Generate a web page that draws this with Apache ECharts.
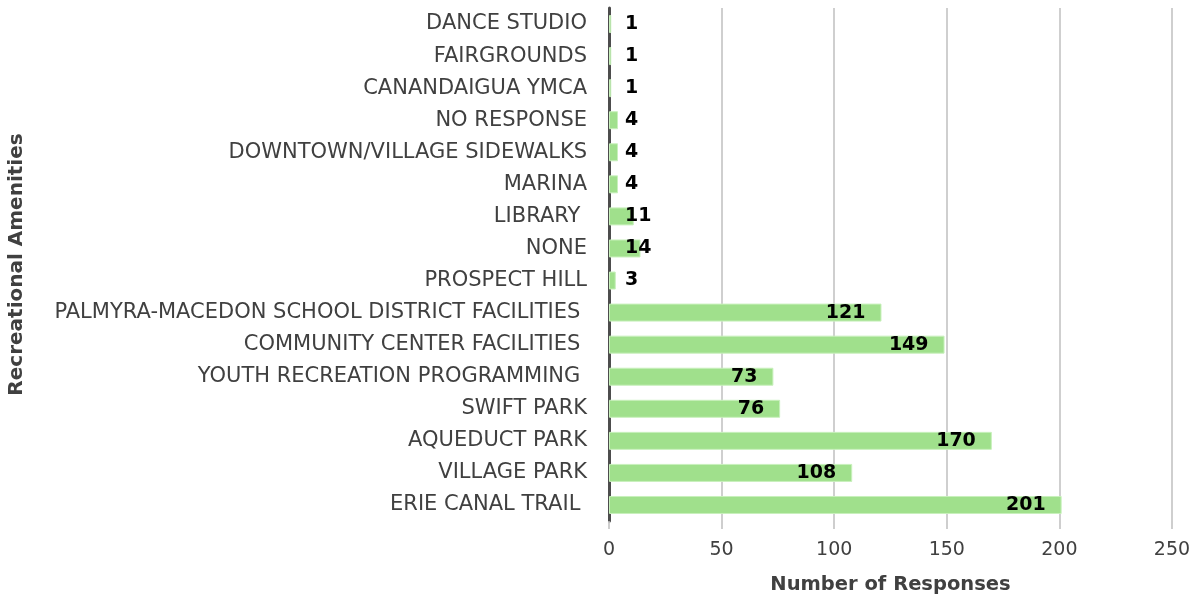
<!DOCTYPE html>
<html>
<head>
<meta charset="utf-8">
<script src="https://cdn.jsdelivr.net/npm/echarts@6/dist/echarts.min.js"></script>
<style>
  html, body { margin: 0; padding: 0; background: #fff; }
  #chart { width: 1198px; height: 603px; }
</style>
</head>
<body>
<div id="chart"></div>
<script>
// Amenities listed bottom-to-top as they appear on the category axis
const amenities = [
  'ERIE CANAL TRAIL ',
  'VILLAGE PARK',
  'AQUEDUCT PARK',
  'SWIFT PARK',
  'YOUTH RECREATION PROGRAMMING ',
  'COMMUNITY CENTER FACILITIES ',
  'PALMYRA-MACEDON SCHOOL DISTRICT FACILITIES ',
  'PROSPECT HILL',
  'NONE',
  'LIBRARY ',
  'MARINA',
  'DOWNTOWN/VILLAGE SIDEWALKS',
  'NO RESPONSE',
  'CANANDAIGUA YMCA',
  'FAIRGROUNDS',
  'DANCE STUDIO'
];
const responses = [201, 108, 170, 76, 73, 149, 121, 3, 14, 11, 4, 4, 4, 1, 1, 1];
const xTicks = { min: 0, max: 250, interval: 50 };

const textColor = '#404040';
const fontFamily = '"DejaVu Sans", sans-serif';

const chart = echarts.init(document.getElementById('chart'));

// Short bars keep their label just past the bar start; long bars carry it inside the end
const barData = responses.map(v => ({
  value: v,
  label: { position: v < 20 ? 'insideLeft' : 'insideRight' }
}));

chart.setOption({
  animation: false,
  backgroundColor: '#ffffff',
  grid: { left: 609, right: 26, top: 8, bottom: 82, containLabel: false },
  xAxis: {
    type: 'value',
    min: xTicks.min,
    max: xTicks.max,
    interval: xTicks.interval,
    name: 'Number of Responses',
    nameLocation: 'middle',
    nameGap: 54,
    nameTextStyle: { color: textColor, fontSize: 19.5, fontWeight: 'bold', fontFamily },
    axisLine: { show: false },
    axisTick: { show: true, length: 8, lineStyle: { color: '#bfbfbf', width: 1.5 } },
    axisLabel: { color: textColor, fontSize: 19, fontFamily, margin: 20 },
    splitLine: { show: true, lineStyle: { color: '#bfbfbf', width: 1.5 } }
  },
  yAxis: {
    type: 'category',
    data: amenities,
    name: 'Recreational Amenities',
    nameLocation: 'middle',
    nameGap: 582,
    nameRotate: 90,
    nameTextStyle: { color: textColor, fontSize: 20, fontWeight: 'bold', fontFamily },
    axisLine: { show: true, lineStyle: { color: '#4d4d4d', width: 3 } },
    axisTick: { show: false },
    axisLabel: { color: textColor, fontSize: 21, fontFamily, margin: 22 },
    splitLine: { show: false }
  },
  series: [{
    type: 'bar',
    data: barData,
    barWidth: 18,
    itemStyle: { color: '#a0e08c', borderColor: '#c8f0bc', borderWidth: 1 },
    label: {
      show: true,
      distance: 16,
      color: '#000000',
      fontSize: 19,
      fontWeight: 'bold',
      fontFamily
    }
  }]
});
</script>
</body>
</html>
